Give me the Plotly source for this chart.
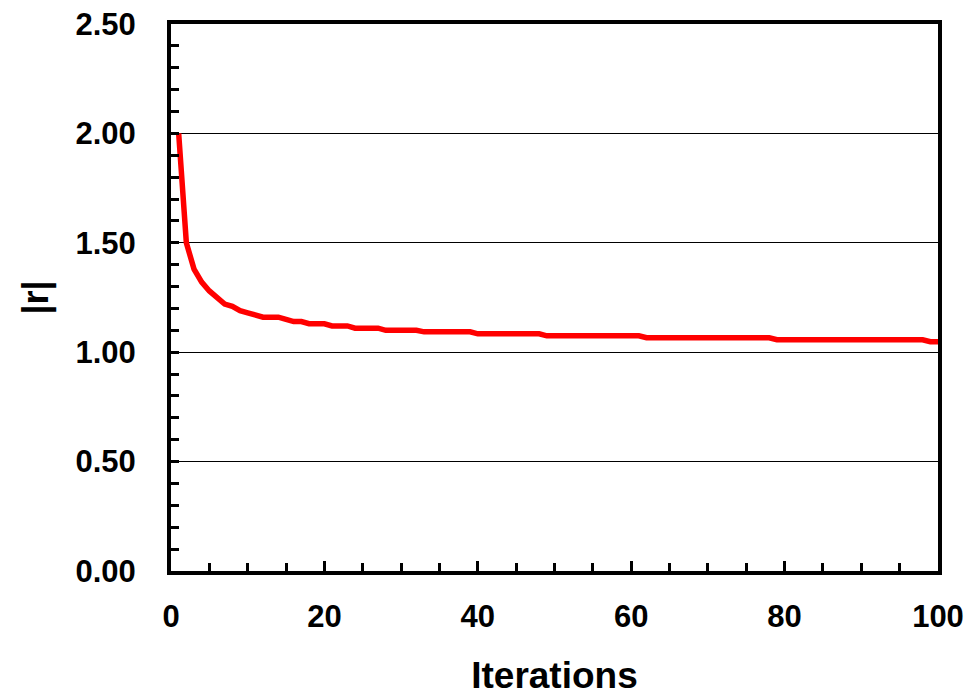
import plotly.graph_objects as go

iterations = list(range(1, 101))
r_head = [2.00, 1.50, 1.38, 1.32, 1.28, 1.25, 1.22, 1.21, 1.19, 1.18,
          1.17, 1.16, 1.16, 1.16, 1.15, 1.14, 1.14, 1.13, 1.13, 1.13,
          1.12, 1.12, 1.12, 1.11, 1.11, 1.11, 1.11]
# plateau levels (value, number of iterations)
r_plateaus = [(1.10, 5), (1.093, 7), (1.084, 9), (1.075, 13),
              (1.066, 17), (1.057, 20), (1.048, 2)]
r_values = list(r_head)
for val, n in r_plateaus:
    r_values += [val] * n

y_tick_vals = [0.0, 0.5, 1.0, 1.5, 2.0, 2.5]
y_tick_text = ["0.00", "0.50", "1.00", "1.50", "2.00", "2.50"]
x_tick_vals = [0, 20, 40, 60, 80, 100]

FONT = "Liberation Sans, Arial, sans-serif"

fig = go.Figure()
fig.add_trace(go.Scatter(
    x=iterations, y=r_values, mode="lines",
    line=dict(color="#ff0000", width=5.5),
    showlegend=False, cliponaxis=False,
))

fig.update_layout(
    width=966, height=688,
    margin=dict(l=163, r=36, t=16, b=125),
    paper_bgcolor="white", plot_bgcolor="white",
    font=dict(family=FONT, color="black"),
)

fig.update_xaxes(
    range=[0, 100], tickvals=x_tick_vals, automargin=False,
    ticklabeloverflow="allow",
    ticks="inside", ticklen=10, tickwidth=3, tickcolor="black",
    minor=dict(dtick=5, tick0=0, ticks="inside", ticklen=8, tickwidth=3,
               tickcolor="black", showgrid=False),
    showline=True, linewidth=4, linecolor="black", mirror=True,
    showgrid=False, zeroline=False,
    tickfont=dict(family=FONT, size=31, color="black", weight="bold"),
    ticklabelstandoff=15,
    title=dict(text="<b>Iterations</b>", font=dict(family=FONT, size=37, color="black"),
               standoff=35),
)

fig.update_yaxes(
    range=[0, 2.5], tickvals=y_tick_vals, ticktext=y_tick_text, automargin=False,
    ticklabeloverflow="allow",
    ticks="inside", ticklen=8, tickwidth=3, tickcolor="black",
    minor=dict(dtick=0.1, tick0=0, ticks="inside", ticklen=8, tickwidth=3,
               tickcolor="black", showgrid=False),
    showline=True, linewidth=4, linecolor="black", mirror=True,
    showgrid=True, gridcolor="black", gridwidth=1, zeroline=False,
    tickfont=dict(family=FONT, size=31, color="black", weight="bold"),
    ticklabelstandoff=25,
    title=dict(text="<b>|r|</b>", font=dict(family=FONT, size=36, color="black"),
               standoff=17),
)

fig.write_html("out.html")
